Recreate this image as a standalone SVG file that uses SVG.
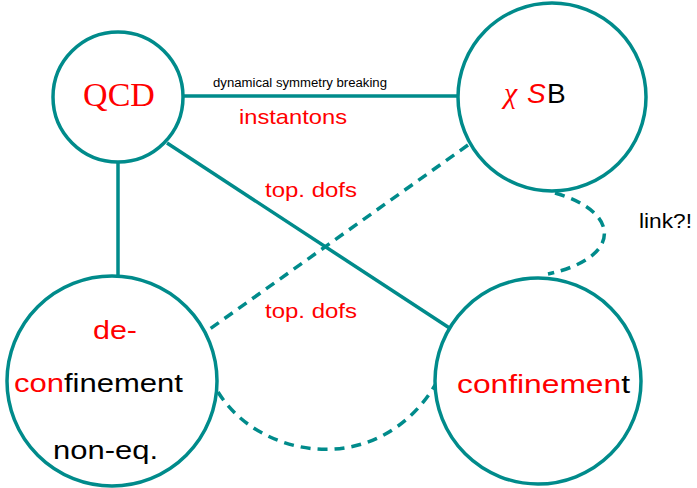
<svg xmlns="http://www.w3.org/2000/svg" width="697" height="488" viewBox="0 0 697 488">
<style>
.node{fill:#fff;stroke:#008B8B;stroke-width:3.5}
.conn{fill:none;stroke:#008B8B;stroke-width:3.5}
.dash{stroke-dasharray:10 7}
.sans{font-family:"Liberation Sans",Arial,sans-serif}
.serif{font-family:"Liberation Serif","Times New Roman",serif}
.red{fill:#FF0000}
.blk{fill:#000}
</style>
<rect width="697" height="488" fill="#fff"/>
<g id="connectors">
<line class="conn" x1="184" y1="96" x2="458" y2="96"/>
<line class="conn" x1="167" y1="143" x2="451" y2="329"/>
<line class="conn" x1="118" y1="161" x2="118" y2="276"/>
<line class="conn dash" x1="468" y1="145" x2="207" y2="331"/>
<path class="conn dash" d="M555 193 C622 212 622 258 548 274"/>
<path class="conn dash" d="M218 392 C260 460 380 480 437 382"/>
</g>
<g id="qcd">
<circle class="node" cx="118" cy="97" r="65"/>
<text class="serif red" x="119" y="106" font-size="34" text-anchor="middle">QCD</text>
</g>
<g id="chisb">
<circle class="node" cx="552" cy="97" r="94"/>
<text y="103" font-size="28"><tspan class="serif red" font-style="italic" font-size="30" x="504">χ</tspan><tspan class="sans red" font-style="italic" x="527">S</tspan><tspan class="sans blk" x="547">B</tspan></text>
</g>
<g id="deconfinement">
<circle class="node" cx="112" cy="381" r="105"/>
<text class="sans red" x="93" y="339" font-size="26" textLength="44" lengthAdjust="spacingAndGlyphs">de-</text>
<text class="sans" x="14" y="392" font-size="26" textLength="169" lengthAdjust="spacingAndGlyphs"><tspan class="red">con</tspan><tspan class="blk">finement</tspan></text>
<text class="sans blk" x="53" y="459" font-size="26" textLength="105" lengthAdjust="spacingAndGlyphs">non-eq.</text>
</g>
<g id="confinement">
<circle class="node" cx="538" cy="381" r="103"/>
<text class="sans" x="457" y="393" font-size="26" textLength="173" lengthAdjust="spacingAndGlyphs"><tspan class="red">confinemen</tspan><tspan class="blk">t</tspan></text>
</g>
<g id="labels">
<text class="sans blk" x="213" y="87" font-size="12" textLength="174" lengthAdjust="spacingAndGlyphs">dynamical symmetry breaking</text>
<text class="sans red" x="239" y="124" font-size="21" textLength="108" lengthAdjust="spacingAndGlyphs">instantons</text>
<text class="sans red" x="265" y="197" font-size="21" textLength="92" lengthAdjust="spacingAndGlyphs">top. dofs</text>
<text class="sans red" x="265" y="318" font-size="21" textLength="92" lengthAdjust="spacingAndGlyphs">top. dofs</text>
<text class="sans blk" x="639" y="228" font-size="20" textLength="53" lengthAdjust="spacingAndGlyphs">link?!</text>
</g>
</svg>
